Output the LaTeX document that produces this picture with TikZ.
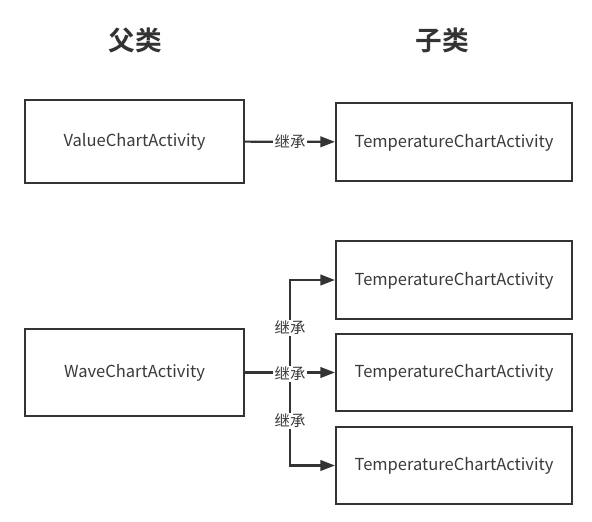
\documentclass[tikz,border=0pt]{standalone}
\usepackage{fontspec}
\setmainfont{Noto Sans CJK SC}
\newfontfamily\cjkbold{Noto Sans CJK SC Bold}
\usetikzlibrary{arrows.meta}
\definecolor{ink}{HTML}{333333}
\definecolor{txt}{HTML}{3A3A3A}
\begin{document}
\begin{tikzpicture}[x=0.75pt,y=-0.75pt,
  cls/.style={draw=ink,line width=1.6pt,inner sep=0pt,text=txt,text height=1em,text depth=0.22em,font=\fontsize{12.4pt}{14pt}\selectfont},
  conn/.style={draw=ink,line width=1.6pt,-{Triangle[length=11pt,width=8pt]}},
  lbl/.style={fill=white,inner sep=1pt,text=txt,font=\fontsize{11.5pt}{13pt}\selectfont},
  title/.style={text=ink,font=\cjkbold\fontsize{20pt}{24pt}\selectfont}]
\useasboundingbox (0,0) rectangle (592,521);
\node[title] (tp) at (135,40) {父类};
\node[title] (tc) at (442,40) {子类};
\node[cls, minimum width=164.25pt, minimum height=62.25pt] (a) at (134.5,141.5) {ValueChartActivity};
\node[cls, minimum width=177pt, minimum height=58.5pt] (b) at (454,142) {TemperatureChartActivity};
\node[cls, minimum width=164.25pt, minimum height=65.25pt] (c) at (134.5,372.5) {WaveChartActivity};
\node[cls, minimum width=177pt, minimum height=58.5pt] (d1) at (454,280) {TemperatureChartActivity};
\node[cls, minimum width=177pt, minimum height=57.75pt] (d2) at (454,372.5) {TemperatureChartActivity};
\node[cls, minimum width=177pt, minimum height=57.75pt] (d3) at (454,465.5) {TemperatureChartActivity};
\coordinate (j) at (290,372.5);
\draw[conn] (a) -- (b) node[lbl,pos=0.5] (l0) {继承};
\draw[conn] (c.east) -- (j) |- (d1.west);
\draw[conn] (j) |- (d3.west);
\draw[conn] (c.east) -- (d2.west);
\node[lbl] (l1) at (290,328) {继承};
\node[lbl] (l2) at (290,374) {继承};
\node[lbl] (l3) at (290,421) {继承};
\end{tikzpicture}
\end{document}
